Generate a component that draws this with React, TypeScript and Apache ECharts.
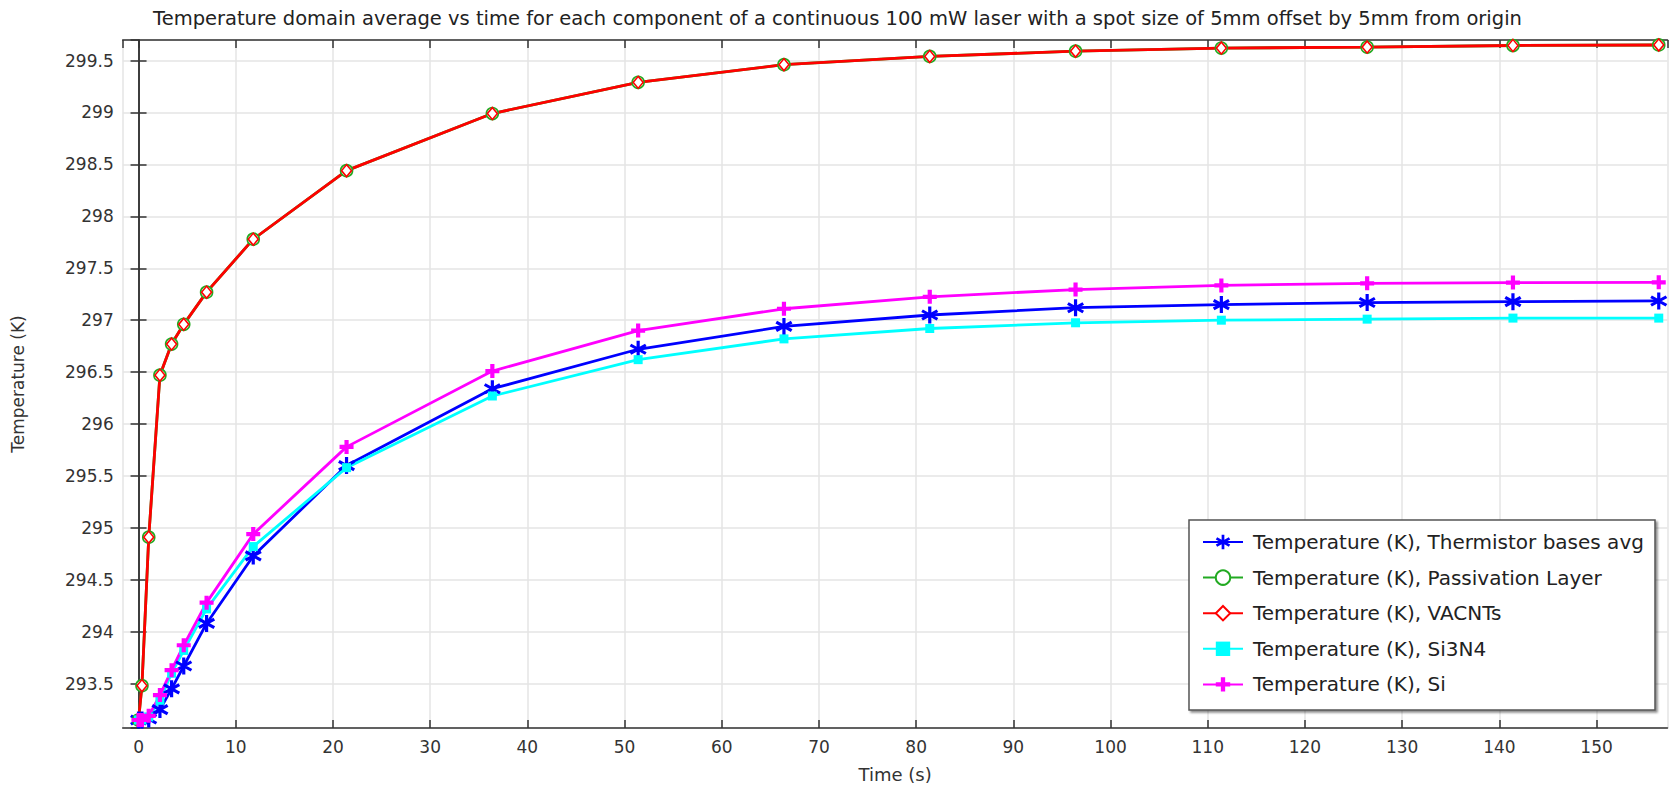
import React, { useEffect, useRef } from "react";
import * as echarts from "echarts";

const titleText =
  "Temperature domain average vs time for each component of a continuous 100 mW laser with a spot size of 5mm offset by 5mm from origin";
const xName = "Time (s)";
const yName = "Temperature (K)";

const seriesNames = [
  "Temperature (K), Thermistor bases avg",
  "Temperature (K), Passivation Layer",
  "Temperature (K), VACNTs",
  "Temperature (K), Si3N4",
  "Temperature (K), Si",
];

const timeS = [0, 0.35, 1.05, 2.2, 3.4, 4.65, 7.0, 11.8, 21.4, 36.4, 51.4, 66.4, 81.4, 96.4, 111.4, 126.4, 141.4, 156.4];

const thermistor = [293.15, 293.15, 293.16, 293.25, 293.45, 293.67, 294.08, 294.73, 295.6, 296.34, 296.72, 296.94, 297.05, 297.12, 297.15, 297.17, 297.178, 297.185];
const passivation = [293.15, 293.48, 294.91, 296.47, 296.77, 296.96, 297.27, 297.78, 298.44, 298.99, 299.29, 299.46, 299.54, 299.59, 299.62, 299.63, 299.645, 299.65];
const vacnts = [293.15, 293.48, 294.91, 296.47, 296.77, 296.96, 297.27, 297.78, 298.44, 298.99, 299.29, 299.46, 299.54, 299.59, 299.62, 299.63, 299.645, 299.65];
const si3n4 = [293.15, 293.15, 293.18, 293.34, 293.6, 293.82, 294.22, 294.82, 295.58, 296.27, 296.62, 296.82, 296.92, 296.975, 297.0, 297.01, 297.02, 297.02];
const si = [293.15, 293.15, 293.19, 293.39, 293.63, 293.87, 294.28, 294.94, 295.78, 296.51, 296.9, 297.11, 297.225, 297.295, 297.335, 297.355, 297.362, 297.365];

const xMin = -1.63;
const xMax = 157.3;
const yMin = 293.073;
const yMax = 299.698;

const asteriskPath =
  "path://M8.2 0 L11.8 0 L11.8 20 L8.2 20 Z M0.44 6.56 L2.24 3.44 L19.56 13.44 L17.76 16.56 Z M17.76 3.44 L19.56 6.56 L2.24 16.56 L0.44 13.44 Z";
const plusPath =
  "path://M7 0 L13 0 L13 7 L20 7 L20 13 L13 13 L13 20 L7 20 L7 13 L0 13 L0 7 L7 7 Z";

const FONT = "DejaVu Sans";

export default function App() {
  const ref = useRef<HTMLDivElement>(null);
  useEffect(() => {
    const chart = echarts.init(ref.current!, null, { renderer: "svg" });
    const toData = (arr: number[]) => timeS.map((t, i) => [t, arr[i]]);

    const axisLine = { show: true, lineStyle: { color: "#333", width: 1.5 } };
    const tick = { show: true, inside: true, length: 8, lineStyle: { color: "#333", width: 1.5 } };
    const split = { show: true, lineStyle: { color: "#e4e4e4", width: 1.5 } };
    const labelStyle = { color: "#333", fontSize: 17, fontFamily: FONT };

    const mk = (
      name: string,
      arr: number[],
      color: string,
      symbol: string,
      size: number | number[],
      itemStyle: any
    ) => ({
      name,
      type: "line",
      data: toData(arr),
      xAxisIndex: 0,
      yAxisIndex: 0,
      symbol,
      symbolSize: size,
      showAllSymbol: true,
      lineStyle: { color, width: 2.8 },
      itemStyle,
      color,
      z: 2,
    });

    const option: any = {
      animation: false,
      backgroundColor: "#fff",
      textStyle: { fontFamily: FONT },
      title: {
        text: titleText,
        left: "center",
        top: 3,
        textStyle: { fontSize: 19.5, fontWeight: "normal", color: "#222", fontFamily: FONT },
      },
      grid: { left: 122.7, right: 7.5, top: 40, bottom: 56, containLabel: false },
      xAxis: [
        {
          type: "value",
          position: "bottom",
          min: xMin,
          max: xMax,
          splitNumber: 16,
          name: xName,
          nameLocation: "middle",
          nameGap: 37,
          nameTextStyle: { ...labelStyle, fontSize: 18 },
          axisLine,
          axisTick: tick,
          splitLine: split,
          axisLabel: { ...labelStyle, margin: 10, showMinLabel: false, showMaxLabel: false },
        },
        {
          type: "value",
          position: "top",
          min: xMin,
          max: xMax,
          splitNumber: 16,
          axisLine,
          axisTick: tick,
          splitLine: { show: false },
          axisLabel: { show: false },
        },
      ],
      yAxis: [
        {
          type: "value",
          position: "left",
          min: yMin,
          max: yMax,
          splitNumber: 13,
          name: yName,
          nameLocation: "middle",
          nameGap: 96,
          nameTextStyle: { ...labelStyle },
          axisLine,
          axisTick: tick,
          splitLine: split,
          axisLabel: { ...labelStyle, margin: 9, showMinLabel: false, showMaxLabel: false },
        },
        {
          type: "value",
          position: "right",
          min: yMin,
          max: yMax,
          splitNumber: 13,
          axisLine,
          axisTick: tick,
          splitLine: { show: false },
          axisLabel: { show: false },
        },
      ],
      legend: {
        orient: "vertical",
        left: 1202,
        top: 532,
        padding: 0,
        itemWidth: 40,
        itemHeight: 18,
        itemGap: 15.6,
        z: 10,
        textStyle: { fontSize: 20, color: "#222", fontFamily: FONT, padding: [0, 0, 0, 5] },
        data: seriesNames,
      },
      graphic: [
        {
          type: "rect",
          z: 5,
          shape: { x: 1189, y: 520, width: 466, height: 190 },
          style: {
            fill: "#fff",
            stroke: "#555",
            lineWidth: 1.5,
            shadowColor: "rgba(0,0,0,0.45)",
            shadowBlur: 2,
            shadowOffsetX: 2,
            shadowOffsetY: 2,
          },
        },
      ],
      series: [
        mk(seriesNames[0], thermistor, "#0000ff", asteriskPath, 17, { color: "#0000ff" }),
        mk(seriesNames[1], passivation, "#22aa22", "circle", 12, {
          color: "#ffffff",
          borderColor: "#22aa22",
          borderWidth: 1.6,
        }),
        mk(seriesNames[2], vacnts, "#ff0000", "diamond", [10, 12], {
          color: "#ffffff",
          borderColor: "#ff0000",
          borderWidth: 1.6,
        }),
        mk(seriesNames[3], si3n4, "#00ffff", "rect", 9, { color: "#00ffff" }),
        mk(seriesNames[4], si, "#ff00ff", plusPath, 14, { color: "#ff00ff" }),
      ],
    };
    chart.setOption(option);
    return () => chart.dispose();
  }, []);
  return (
    <div
      ref={ref}
      style={{ position: "fixed", left: 0, top: 0, width: 1675, height: 788, background: "#fff" }}
    />
  );
}
